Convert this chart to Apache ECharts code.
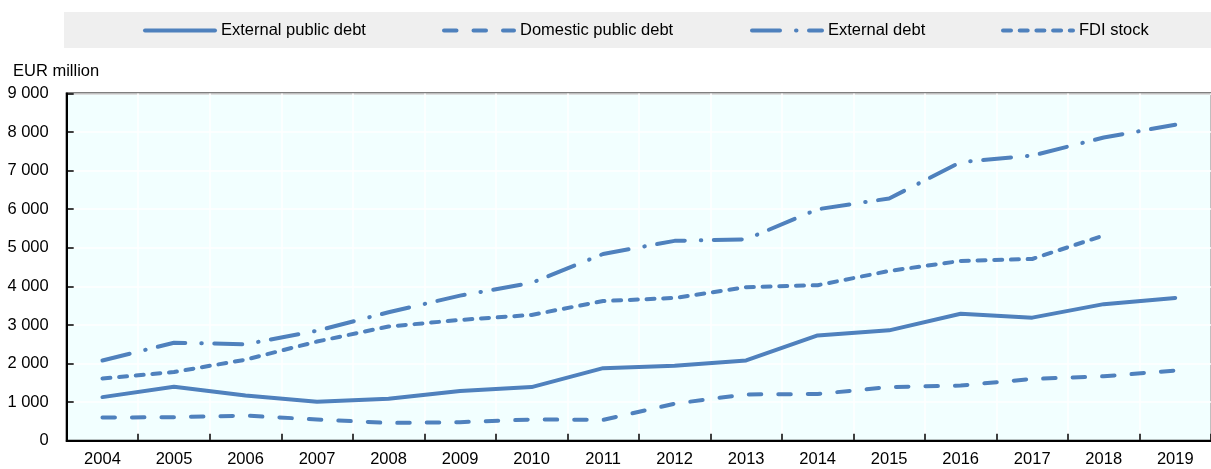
<!DOCTYPE html>
<html>
<head>
<meta charset="utf-8">
<script src="https://cdn.jsdelivr.net/npm/echarts@6/dist/echarts.min.js"></script>
<style>
html,body{margin:0;padding:0;background:#fff;}
#chart{width:1211px;height:469px;}
</style>
</head>
<body>
<div id="chart"></div>
<script>
var years = ['2004','2005','2006','2007','2008','2009','2010','2011','2012','2013','2014','2015','2016','2017','2018','2019'];
var externalPublicDebt = [1130,1400,1170,1010,1090,1290,1390,1880,1940,2080,2730,2860,3290,3190,3540,3700];
var domesticPublicDebt = [600,610,650,550,460,480,550,540,960,1200,1210,1390,1430,1600,1670,1820];
var externalDebt = [2080,2540,2500,2850,3330,3760,4090,4840,5180,5220,6000,6280,7220,7390,7860,8190];
var fdiStock = [1610,1780,2100,2570,2960,3130,3260,3620,3700,3980,4030,4400,4660,4710,5320,null];
var yTickLabels = ['0','1 000','2 000','3 000','4 000','5 000','6 000','7 000','8 000','9 000'];
var seriesNames = ['External public debt','Domestic public debt','External debt','FDI stock'];

var FONT = "'Liberation Sans',Arial,sans-serif";
var BLUE = '#4f81bd';
var DASHES = ['solid', [12.5,17], [28,16,0.5,12.5], [8,8.7]];
var chart = echarts.init(document.getElementById('chart'), null, {renderer:'canvas'});

function mkLegend(i, left){
  return {
    data:[seriesNames[i]], left:left, top:17, itemWidth:70, itemHeight:14, itemGap:0,
    textStyle:{fontFamily:FONT, fontSize:16.5, color:'#000', padding:[0,0,0,1]},
    itemStyle:{opacity:0},
    lineStyle:{color:BLUE, width:4, type:DASHES[i], cap:'round', join:'round'},
    selectedMode:false
  };
}
function mkSeries(i, data){
  return {
    name:seriesNames[i], type:'line', data:data, symbol:'none', connectNulls:false,
    lineStyle:{color:BLUE, width:4, type:DASHES[i], cap:'round', join:'round'},
    itemStyle:{color:BLUE}, animation:false
  };
}

chart.setOption({
  animation:false,
  graphic:[{type:'rect', z:-10, shape:{x:64, y:12, width:1147, height:36}, style:{fill:'#efefef'}, silent:true}],
  title:{text:'EUR million', left:8, top:58, textStyle:{fontFamily:FONT, fontSize:16.5, fontWeight:'normal', color:'#000'}},
  legend:[mkLegend(0,138), mkLegend(1,437), mkLegend(2,745), mkLegend(3,996)],
  grid:{left:66.7, right:-4, top:93.5, bottom:28.3, show:true, backgroundColor:'#f2ffff', borderWidth:2, borderColor:'#000', containLabel:false},
  xAxis:{
    type:'category', data:years, boundaryGap:true,
    axisLine:{show:true, lineStyle:{color:'#000', width:2}},
    axisTick:{show:true, inside:true, length:7, lineStyle:{color:'#000', width:1.5}},
    axisLabel:{fontFamily:FONT, fontSize:16.5, color:'#000', margin:10},
    splitLine:{show:true, lineStyle:{color:'#ffffff', width:1.5}}
  },
  yAxis:{
    type:'value', min:0, max:9000, interval:1000,
    axisLine:{show:true, lineStyle:{color:'#000', width:2}},
    axisTick:{show:true, inside:true, length:7, lineStyle:{color:'#000', width:1.5}},
    axisLabel:{fontFamily:FONT, fontSize:16.5, color:'#000', margin:18,
      formatter:function(v){ return yTickLabels[Math.round(v/1000)]; }},
    splitLine:{show:true, lineStyle:{color:'#ffffff', width:1.5}}
  },
  series:[
    mkSeries(0, externalPublicDebt),
    mkSeries(1, domesticPublicDebt),
    mkSeries(2, externalDebt),
    mkSeries(3, fdiStock)
  ]
});
</script>
</body>
</html>
